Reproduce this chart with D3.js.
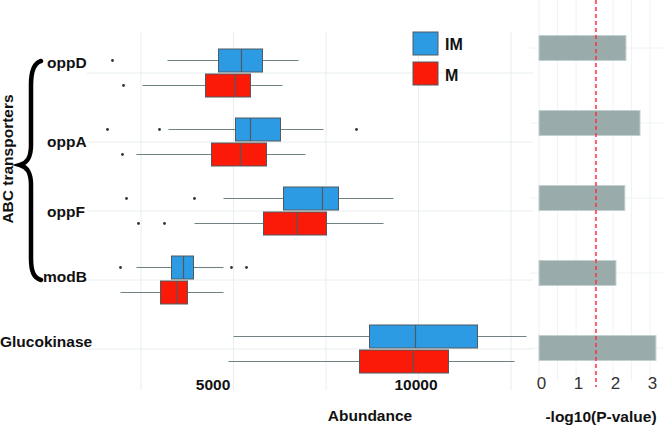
<!DOCTYPE html>
<html><head><meta charset="utf-8">
<script src="https://cdn.jsdelivr.net/npm/d3@7"></script>
<style>body{margin:0;background:#fff}svg{display:block}text{font-family:"Liberation Sans",Arial,sans-serif}</style>
</head><body>
<svg id="c" width="663" height="425"></svg>
<script>
// ---- data ----
const categories = ["oppD","oppA","oppF","modB","Glucokinase"];
const groups = ["IM","M"];
// [lower whisker, Q1, median, Q3, upper whisker]
const statsIM = [
  [3216,4595,5216,5784,6757],
  [3243,5054,5459,6270,7432],
  [4730,6351,7405,7838,9324],
  [2378,3324,3649,3919,4730],
  [5000,8676,9919,11595,12919]
];
const outliersIM = [[1730],[1595,3000,8324],[2108,3946],[1946,4946,5351],[]];
const statsM = [
  [2540,4243,5054,5459,6324],
  [2378,4405,5189,5892,6946],
  [3946,5811,6730,7514,9054],
  [1946,3027,3486,3757,4730],
  [4865,8405,9865,10811,12595]
];
const outliersM = [[2027],[2000],[2432,3135],[],[]];
const xTicks = [5000,10000];
const xGrid = [2500,5000,7500,10000,12500];
const negLogP = [2.35,2.73,2.32,2.08,3.16];
const pTicks = [0,1,2,3];
const pGrid = [0,0.5,1,1.5,2,2.5,3];
const threshold = 1.54;
const groupLabel = "ABC transporters";
const braceGroup = ["oppD","modB"];

const colors = {IM:"#2d9be3", M:"#fb1a08"};
const svg = d3.select("#c");

// ---- left panel: boxplots ----
const x = d3.scaleLinear().domain([2500,12500]).range([141,511]);
const yL = d3.scalePoint().domain(categories).range([73,349]);
const dodge = {IM:-12.5, M:12.5};
const boxH = 23;

const gl = svg.append("g");
gl.selectAll(".vg").data(xGrid).join("line")
  .attr("x1",d=>x(d)).attr("x2",d=>x(d)).attr("y1",32).attr("y2",390)
  .attr("stroke","#e6eef0").attr("stroke-width",1);
gl.selectAll(".hg").data(categories).join("line")
  .attr("x1",87).attr("x2",533).attr("y1",d=>yL(d)).attr("y2",d=>yL(d))
  .attr("stroke","#e6eef0").attr("stroke-width",1);

const boxes = [];
categories.forEach((c,i)=>{
  boxes.push({cat:c,g:"IM",s:statsIM[i],o:outliersIM[i]});
  boxes.push({cat:c,g:"M",s:statsM[i],o:outliersM[i]});
});
const bg = gl.selectAll(".box").data(boxes).join("g");
bg.each(function(d){
  const g = d3.select(this);
  const yc = yL(d.cat)+dodge[d.g];
  g.append("line").attr("x1",x(d.s[0])).attr("x2",x(d.s[1])).attr("y1",yc).attr("y2",yc)
    .attr("stroke","#6f8284").attr("stroke-width",1.1);
  g.append("line").attr("x1",x(d.s[3])).attr("x2",x(d.s[4])).attr("y1",yc).attr("y2",yc)
    .attr("stroke","#6f8284").attr("stroke-width",1.1);
  g.append("rect").attr("x",x(d.s[1])).attr("width",x(d.s[3])-x(d.s[1]))
    .attr("y",yc-boxH/2).attr("height",boxH)
    .attr("fill",colors[d.g]).attr("stroke","#4f5a60").attr("stroke-width",1);
  g.append("line").attr("x1",x(d.s[2])).attr("x2",x(d.s[2])).attr("y1",yc-boxH/2).attr("y2",yc+boxH/2)
    .attr("stroke","#4f5a60").attr("stroke-width",1.2);
  g.selectAll("circle").data(d.o).join("circle")
    .attr("cx",v=>x(v)).attr("cy",yc).attr("r",1.4).attr("fill","#333");
});

// x axis
const xAxis = d3.axisBottom(x).tickValues(xTicks).tickSize(0).tickFormat(d3.format("d"));
const xa = svg.append("g").attr("transform","translate(0,385)").call(xAxis);
xa.select(".domain").remove();
const xLabelShift = [-21,-3];
xa.selectAll("text").attr("font-size",15.5).attr("font-weight","bold").attr("fill","#111")
  .attr("dx",(d,i)=>xLabelShift[i]).attr("dy","0.1em");
svg.append("text").attr("x",370).attr("y",421).attr("text-anchor","middle")
  .attr("font-size",15.5).attr("font-weight","bold").attr("fill","#111").text("Abundance");

// category labels
const labelPos = {oppD:[47,63],oppA:[47,142],oppF:[47,212],modB:[43,277],Glucokinase:[0,342]};
svg.selectAll(".cl").data(categories).join("text")
  .attr("x",d=>labelPos[d][0]).attr("y",d=>labelPos[d][1]).attr("dy","0.35em")
  .attr("font-size",15.5).attr("font-weight","bold").attr("fill","#111").text(d=>d);

// brace
svg.append("path")
  .attr("d","M41,61 C34,63 31,70 31,85 L31,145 C31,158 27,163 20,165 C27,167 31,172 31,185 L31,258 C31,272 34,278 41,280")
  .attr("fill","none").attr("stroke","#000").attr("stroke-width",4.5).attr("stroke-linecap","round");
svg.append("text").attr("transform","translate(13,159) rotate(-90)").attr("text-anchor","middle")
  .attr("font-size",15.5).attr("font-weight","bold").attr("fill","#111").text(groupLabel);

// legend
const lg = svg.append("g");
groups.forEach((g,i)=>{
  lg.append("rect").attr("x",413).attr("y",32+i*30).attr("width",25).attr("height",23)
    .attr("fill",colors[g]).attr("stroke","#4f5a60").attr("stroke-width",1);
  lg.append("text").attr("x",445).attr("y",44+i*31).attr("dy","0.35em")
    .attr("font-size",16).attr("font-weight","bold").attr("fill","#111").text(g);
});

// ---- right panel: -log10(P) ----
const xr = d3.scaleLinear().domain([0,3]).range([539,650]);
const yR = d3.scalePoint().domain(categories).range([48,348]);
const gr = svg.append("g");
gr.selectAll(".rvg").data(pGrid).join("line")
  .attr("x1",d=>xr(d)).attr("x2",d=>xr(d)).attr("y1",0).attr("y2",380)
  .attr("stroke","#eef3f4").attr("stroke-width",1);
gr.selectAll(".rhg").data(categories).join("line")
  .attr("x1",530).attr("x2",663).attr("y1",d=>yR(d)).attr("y2",d=>yR(d))
  .attr("stroke","#eef3f4").attr("stroke-width",1);
gr.selectAll(".bar").data(categories).join("rect")
  .attr("x",xr(0)).attr("y",d=>yR(d)-12.5).attr("height",25)
  .attr("width",(d,i)=>xr(negLogP[i])-xr(0))
  .attr("fill","#9aabab").attr("stroke","#c4d0d0").attr("stroke-width",1);
gr.append("line").attr("x1",xr(threshold)).attr("x2",xr(threshold)).attr("y1",0).attr("y2",387)
  .attr("stroke","#ff3040").attr("stroke-width",1.5).attr("stroke-dasharray","4,3");

const xrAxis = d3.axisBottom(xr).tickValues(pTicks).tickSize(0).tickFormat(d3.format("d"));
const xra = svg.append("g").attr("transform","translate(2,385)").call(xrAxis);
xra.select(".domain").remove();
xra.selectAll("text").attr("font-size",17).attr("fill","#333").attr("dy","0.05em");
svg.append("text").attr("x",601).attr("y",422).attr("text-anchor","middle")
  .attr("font-size",15.5).attr("font-weight","bold").attr("fill","#111").text("-log10(P-value)");
</script>
</body></html>
